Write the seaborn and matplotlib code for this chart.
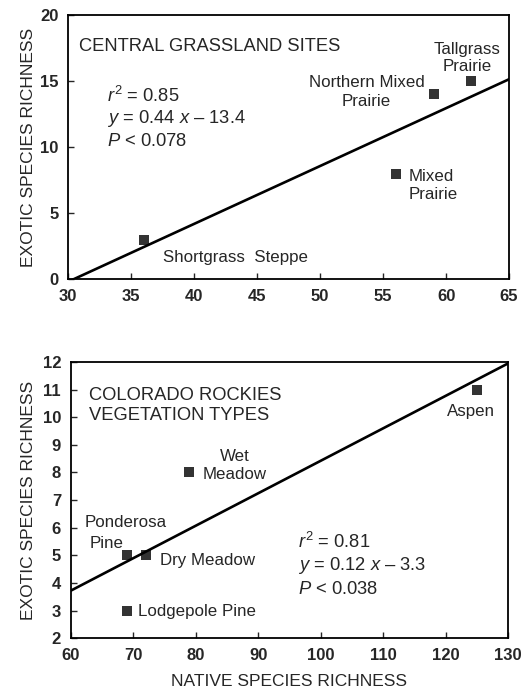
import numpy as np
import pandas as pd
import matplotlib
matplotlib.use("Agg")
import matplotlib.pyplot as plt
import seaborn as sns

# central grassland sites
grass_sites = ["Shortgrass Steppe", "Mixed Prairie", "Northern Mixed Prairie", "Tallgrass Prairie"]
grass_native = [36, 56, 59, 62]
grass_exotic = [3, 8, 14, 15]
grass_xticks = list(range(30, 66, 5))
grass_yticks = list(range(0, 21, 5))

# colorado rockies vegetation types
rock_types = ["Ponderosa Pine", "Dry Meadow", "Lodgepole Pine", "Wet Meadow", "Aspen"]
rock_native = [69, 72, 69, 79, 125]
rock_exotic = [5, 5, 3, 8, 11]
rock_xticks = list(range(60, 131, 10))
rock_yticks = list(range(2, 13, 1))

sns.set_style("ticks")
plt.rcParams['font.family'] = ['Liberation Sans', 'DejaVu Sans']
plt.rcParams['mathtext.fontset'] = 'custom'
plt.rcParams['mathtext.rm'] = 'Liberation Sans'
plt.rcParams['mathtext.it'] = 'Liberation Sans:italic'

fig = plt.figure(figsize=(5.32, 6.96), dpi=100)
ax1 = fig.add_axes([0.128, 0.599, 0.829, 0.379])
ax2 = fig.add_axes([0.133, 0.083, 0.822, 0.397])

df1 = pd.DataFrame({"native": grass_native, "exotic": grass_exotic, "site": grass_sites})
df2 = pd.DataFrame({"native": rock_native, "exotic": rock_exotic, "type": rock_types})

def style_ax(ax, xt, yt):
    for s in ax.spines.values():
        s.set_linewidth(1.3)
        s.set_color("black")
        s.set_visible(True)
    ax.set_xticks(xt, labels=[str(v) for v in xt], fontweight="bold", fontsize=12)
    ax.set_yticks(yt, labels=[str(v) for v in yt], fontweight="bold", fontsize=12)
    ax.tick_params(direction="in", length=4, width=1, pad=7)

# top panel
ax1.set_xlim(30, 65)
ax1.set_ylim(0, 20)
sns.regplot(data=df1, x="native", y="exotic", ax=ax1, ci=None, truncate=False,
            marker="s", color="black",
            scatter_kws={"s": 45, "linewidths": 0},
            line_kws={"lw": 1.9})
ax1.set_xlim(30, 65)
ax1.set_ylim(0, 20)
ax1.set_xlabel("")
ax1.set_ylabel("EXOTIC SPECIES RICHNESS", fontsize=12.5, labelpad=3)
style_ax(ax1, grass_xticks, grass_yticks)

fs = 12.2
fe = 13.2
ax1.text(30.85, 17.6, "CENTRAL GRASSLAND SITES", fontsize=13.2, va="center", ha="left")
ax1.text(33.1, 13.9, "$r^2$ = 0.85", fontsize=fe, va="center", ha="left")
ax1.text(33.1, 12.2, "$y$ = 0.44 $x$ \u2013 13.4", fontsize=fe, va="center", ha="left")
ax1.text(33.1, 10.4, "$P$ < 0.078", fontsize=fe, va="center", ha="left")
ax1.text(53.7, 14.2, "Northern Mixed\nPrairie", fontsize=fs, va="center", ha="center", linespacing=1.3)
ax1.text(61.7, 16.75, "Tallgrass\nPrairie", fontsize=fs, va="center", ha="center", linespacing=1.2)
ax1.text(57.0, 7.1, "Mixed\nPrairie", fontsize=fs, va="center", ha="left", linespacing=1.3)
ax1.text(37.5, 1.65, "Shortgrass  Steppe", fontsize=fs, va="center", ha="left")

# bottom panel
ax2.set_xlim(60, 130)
ax2.set_ylim(2, 12)
sns.regplot(data=df2, x="native", y="exotic", ax=ax2, ci=None, truncate=False,
            marker="s", color="black",
            scatter_kws={"s": 45, "linewidths": 0},
            line_kws={"lw": 1.9})
ax2.set_xlim(60, 130)
ax2.set_ylim(2, 12)
ax2.set_xlabel("NATIVE SPECIES RICHNESS", fontsize=12.5, labelpad=8)
ax2.set_ylabel("EXOTIC SPECIES RICHNESS", fontsize=12.5, labelpad=5)
style_ax(ax2, rock_xticks, rock_yticks)

ax2.text(63.0, 10.43, "COLORADO ROCKIES\nVEGETATION TYPES", fontsize=13.2, va="center", ha="left", linespacing=1.2)
ax2.text(86.3, 8.25, "Wet\nMeadow", fontsize=fs, va="center", ha="center", linespacing=1.3)
ax2.text(62.2, 6.2, "Ponderosa", fontsize=fs, va="center", ha="left")
ax2.text(63.0, 5.44, "Pine", fontsize=fs, va="center", ha="left")
ax2.text(74.3, 4.83, "Dry Meadow", fontsize=fs, va="center", ha="left")
ax2.text(70.7, 2.98, "Lodgepole Pine", fontsize=fs, va="center", ha="left")
ax2.text(124.1, 10.2, "Aspen", fontsize=fs, va="center", ha="center")
ax2.text(96.4, 5.48, "$r^2$ = 0.81", fontsize=fe, va="center", ha="left")
ax2.text(96.4, 4.64, "$y$ = 0.12 $x$ \u2013 3.3", fontsize=fe, va="center", ha="left")
ax2.text(96.4, 3.78, "$P$ < 0.038", fontsize=fe, va="center", ha="left")

fig.savefig("out.png", dpi=100)
